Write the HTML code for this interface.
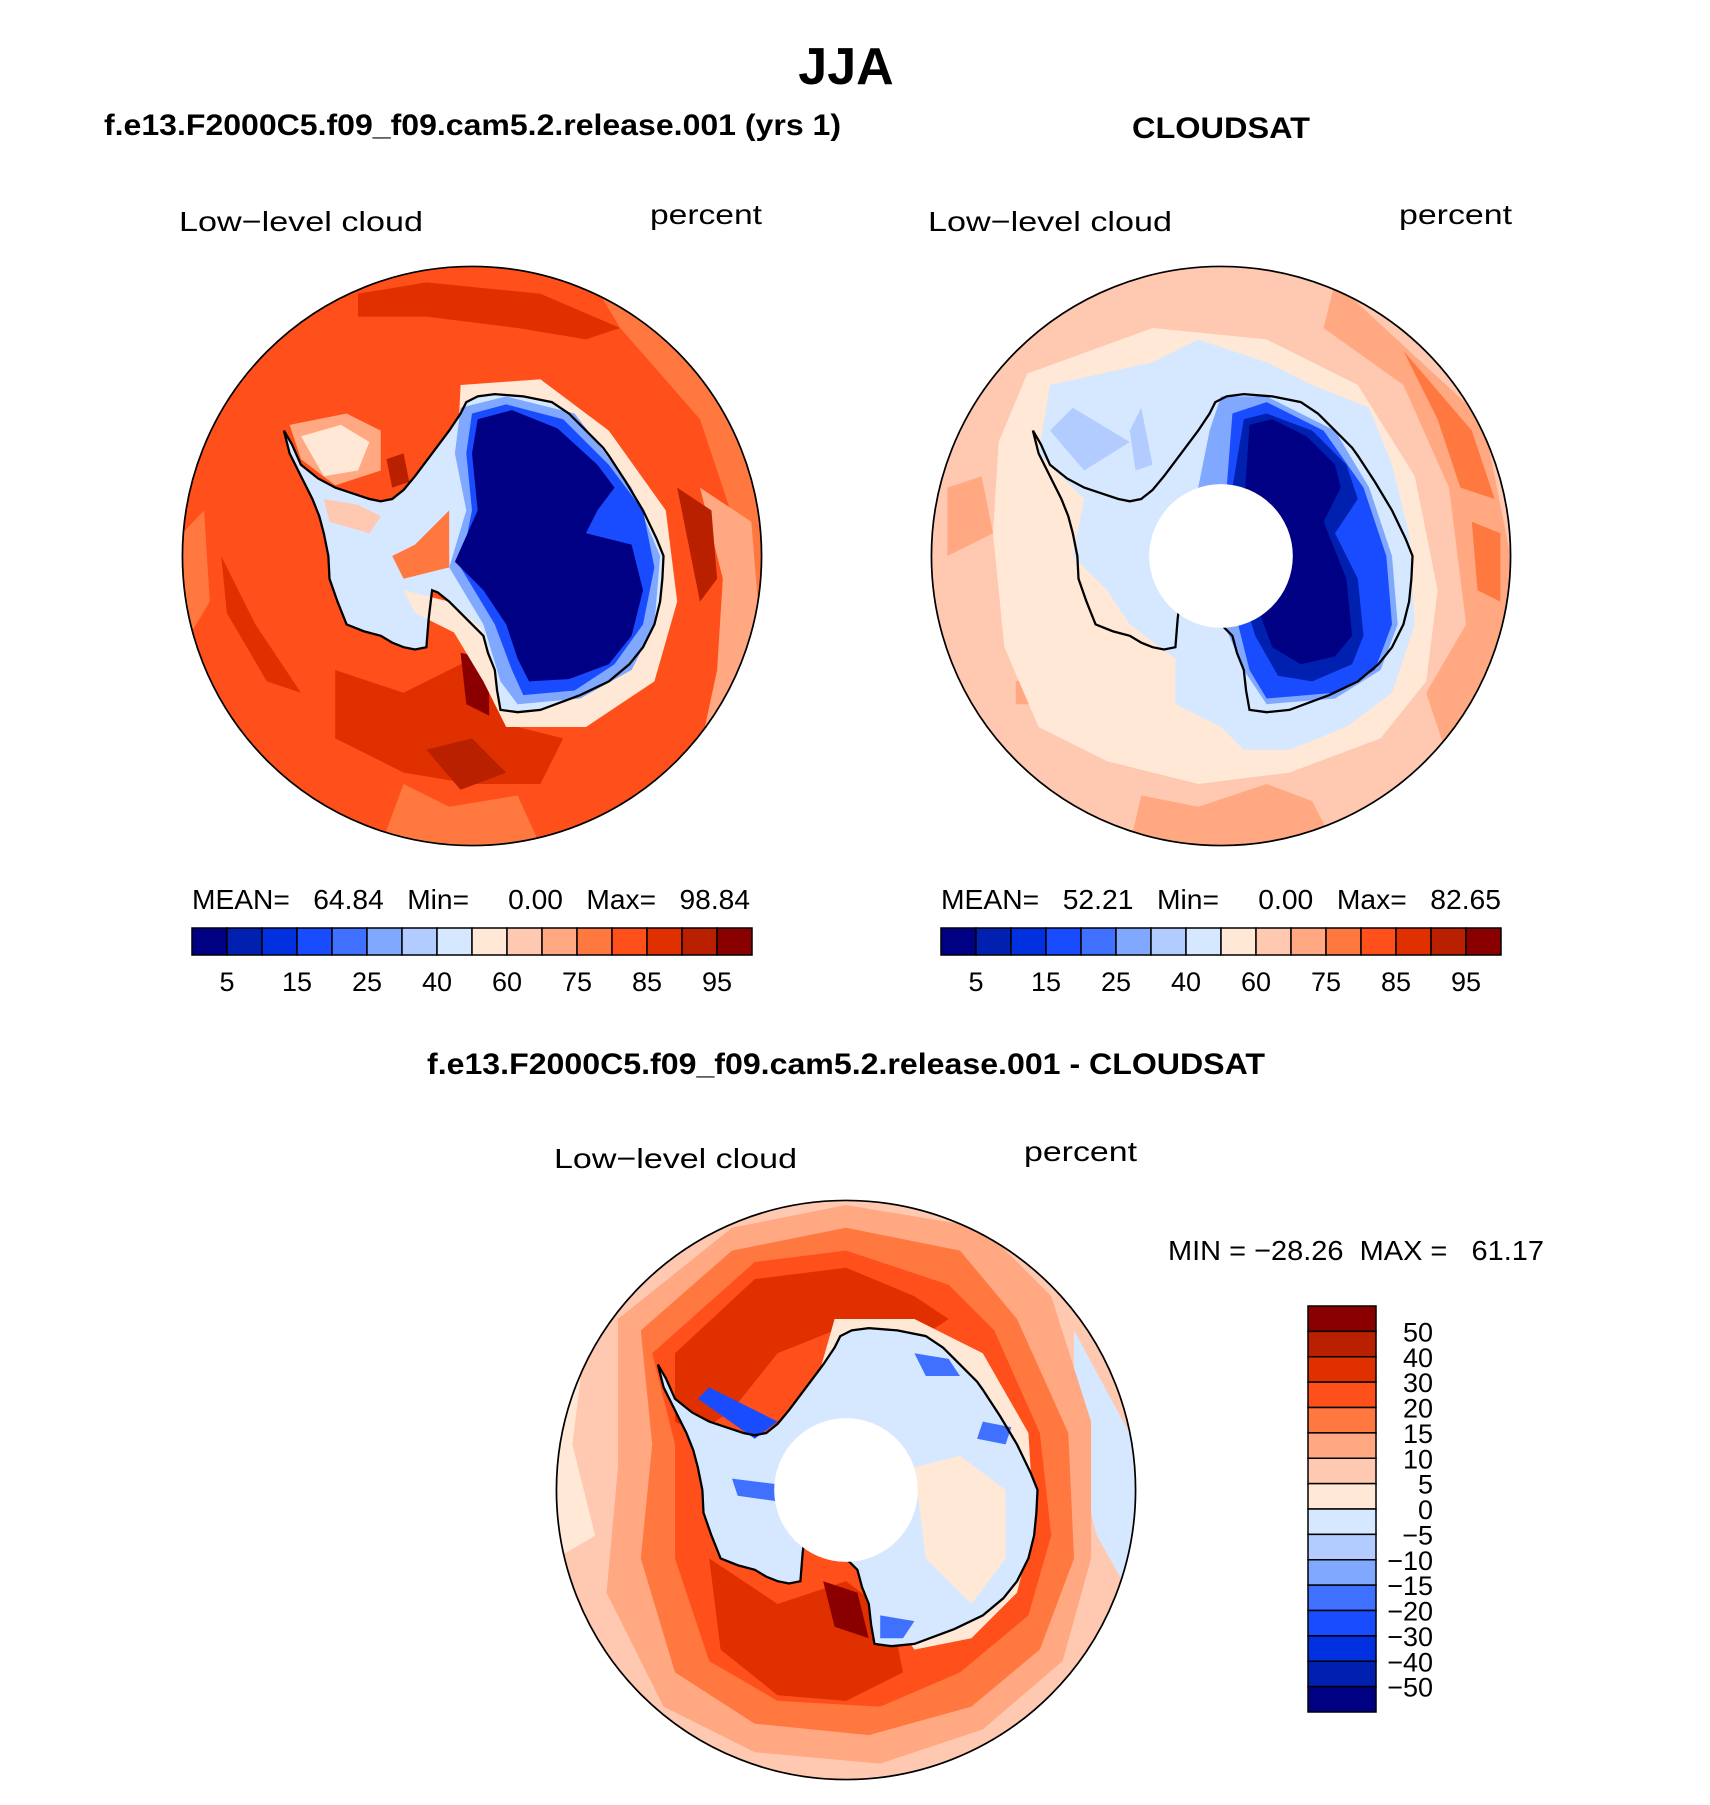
<!DOCTYPE html>
<html><head><meta charset="utf-8"><style>
html,body{margin:0;padding:0;background:#fff}
svg{display:block}
text{font-family:"Liberation Sans",sans-serif;fill:#000}
.t{font-weight:bold}
.l{font-size:28px}
</style></head><body>
<svg id="fig" width="1710" height="1805" viewBox="0 0 1710 1805" xmlns="http://www.w3.org/2000/svg">
<defs>
<clipPath id="c1"><circle cx="0" cy="0" r="254"/></clipPath>
<path id="ant" d="M-5,-135 L5,-140 20,-142 45,-140 70,-135 85,-125 100,-110 115,-95 120,-88 135,-65 150,-40 162,-15 168,0 167,20 165,40 160,60 150,80 138,95 120,110 95,122 60,135 40,137 25,135 22,118 20,100 14,85 10,70 -5,55 -20,40 -30,32 -35,30 -38,55 -40,80 -50,82 -60,80 -70,76 -80,70 -95,66 -110,60 -118,40 -125,20 -126,0 -130,-20 -134,-35 -140,-50 -150,-70 -160,-90 -165,-110 -158,-98 -150,-80 -135,-68 -120,-60 -105,-55 -90,-50 -80,-48 -70,-50 -60,-58 -50,-70 -35,-90 -20,-110 -10,-125 Z"/>
</defs>

<text class="t" x="846" y="84" font-size="52" text-anchor="middle">JJA</text>
<text class="t" x="104" y="135" font-size="30" textLength="737" lengthAdjust="spacingAndGlyphs">f.e13.F2000C5.f09_f09.cam5.2.release.001 (yrs 1)</text>
<text class="t" x="1221" y="138" font-size="30" text-anchor="middle" textLength="178" lengthAdjust="spacingAndGlyphs">CLOUDSAT</text>
<text class="t" x="846" y="1074" font-size="30" text-anchor="middle" textLength="838" lengthAdjust="spacingAndGlyphs">f.e13.F2000C5.f09_f09.cam5.2.release.001 - CLOUDSAT</text>

<text class="l" x="179" y="231" textLength="244" lengthAdjust="spacingAndGlyphs">Low−level cloud</text>
<text class="l" x="650" y="224" textLength="112" lengthAdjust="spacingAndGlyphs">percent</text>
<text class="l" x="928" y="231" textLength="244" lengthAdjust="spacingAndGlyphs">Low−level cloud</text>
<text class="l" x="1399" y="224" textLength="113" lengthAdjust="spacingAndGlyphs">percent</text>
<text class="l" x="554" y="1168" textLength="243" lengthAdjust="spacingAndGlyphs">Low−level cloud</text>
<text class="l" x="1024" y="1161" textLength="113" lengthAdjust="spacingAndGlyphs">percent</text>

<!-- left map -->
<g transform="translate(472,556) scale(1.14)">
<g clip-path="url(#c1)">
<circle r="254" fill="#ff4f1a"/>
<path d="M100,-250 L254,-120 254,120 180,200 230,120 240,0 200,-120 130,-200Z" fill="#ff7840"/>
<path d="M200,-60 L245,-30 254,80 230,150 200,170 215,100 220,20Z" fill="#ffa882"/>
<path d="M-80,254 L-60,200 -20,220 40,210 60,254Z" fill="#ff7840"/>
<path d="M-200,180 L-150,230 -120,254 -254,254Z" fill="#ff7840"/>
<path d="M-254,-20 L-235,-40 -230,40 -254,80Z" fill="#ff7840"/>
<path d="M-120,100 L-60,120 0,90 40,150 80,160 60,200 0,200 -60,190 -120,160Z" fill="#e03000"/>
<path d="M-40,170 L0,160 30,190 -10,205Z" fill="#b82000"/>
<path d="M-10,85 L15,90 15,140 -5,130Z" fill="#8a0000"/>
<path d="M180,-60 L210,-40 215,20 200,40 190,-10Z" fill="#b82000"/>
<path d="M-100,-230 L-40,-240 60,-230 130,-200 100,-190 40,-200 -40,-210 -100,-210Z" fill="#e03000"/>
<path d="M-220,0 L-190,60 -150,120 -180,110 -215,50Z" fill="#e03000"/>
<path d="M-160,-115 L-110,-125 -80,-110 -80,-75 -120,-62 -150,-85Z" fill="#ffa882"/>
<path d="M-150,-105 L-115,-115 -90,-100 -100,-75 -130,-70Z" fill="#ffe8d6"/>
<path d="M-10,-150 L60,-155 120,-110 170,-40 180,40 160,110 100,150 30,150 10,110 -20,60Z" fill="#ffe8d6"/>
<use href="#ant" fill="#d6e8ff"/>
<path d="M-130,-50 L-100,-45 -80,-35 -90,-20 -125,-30Z" fill="#ffc8b0"/>
<path d="M-20,-40 L-20,10 -60,20 -70,0 -50,-10Z" fill="#ff7840"/>
<path d="M-75,-85 L-60,-90 -55,-65 -70,-60Z" fill="#b82000"/>
<path d="M-60,30 L-20,40 10,65 -10,70 -50,50Z" fill="#ffe8d6"/>
<path d="M-10,-130 L30,-140 90,-125 140,-60 165,0 160,60 140,100 95,125 40,130 25,110 10,60 -20,10 -5,-40 -15,-90Z" fill="#80a8ff"/>
<path d="M0,-125 L30,-133 80,-120 120,-80 150,-40 160,10 150,60 125,95 90,118 45,122 35,100 20,60 -10,10 0,-40 -5,-90Z" fill="#1a4cff"/>
<path d="M5,-120 L35,-128 75,-112 110,-80 125,-60 110,-40 100,-20 140,-10 150,30 140,70 120,95 85,108 50,110 40,90 30,60 10,30 -15,5 5,-40 0,-90Z" fill="#000085"/>
<use href="#ant" fill="none" stroke="#000" stroke-width="2"/>
</g>
<circle r="254" fill="none" stroke="#000" stroke-width="1.5"/>
</g>

<!-- right map -->
<g transform="translate(1221,556) scale(1.14)">
<g clip-path="url(#c1)">
<circle r="254" fill="#ffc8b0"/>
<path d="M100,-240 L230,-120 254,0 250,120 200,180 180,120 215,60 200,-60 160,-150 90,-200Z" fill="#ffa882"/>
<path d="M160,-180 L220,-110 240,-50 210,-60 190,-120Z" fill="#ff7840"/>
<path d="M220,-30 L245,-20 245,40 225,30Z" fill="#ff7840"/>
<path d="M-80,254 L-70,210 -20,220 40,200 80,215 100,254Z" fill="#ffa882"/>
<path d="M-240,-60 L-210,-70 -200,-20 -240,0Z" fill="#ffa882"/>
<path d="M-180,110 L-150,100 -140,130 -180,130Z" fill="#ffa882"/>
<path d="M-170,-160 L-60,-200 40,-190 120,-150 170,-70 190,30 180,110 140,160 60,190 -20,200 -100,180 -160,150 -190,80 -200,-20 -195,-100Z" fill="#ffe8d6"/>
<path d="M-150,-150 L-60,-170 -20,-190 40,-170 80,-150 130,-130 150,-80 165,-20 170,60 150,120 110,150 60,170 20,170 0,150 -40,130 -40,90 -80,60 -100,30 -130,0 -120,-50 -160,-90Z" fill="#d6e8ff"/>
<path d="M-150,-110 L-130,-130 -80,-100 -120,-75Z" fill="#b2ccff"/>
<path d="M-80,-110 L-70,-130 -60,-80 -75,-75Z" fill="#b2ccff"/>
<path d="M-10,-110 L0,-140 40,-140 100,-110 130,-60 150,0 155,60 140,100 100,125 40,130 20,100 -10,30 -30,0 -20,-60Z" fill="#80a8ff"/>
<path d="M10,-125 L40,-135 90,-110 125,-60 145,0 150,60 135,100 100,120 40,125 25,100 10,40 -5,-10 5,-60Z" fill="#1a4cff"/>
<path d="M20,-120 L40,-125 80,-110 110,-80 120,-50 100,-20 120,20 125,70 115,95 80,110 50,105 30,70 15,20 10,-60Z" fill="#0020b0"/>
<path d="M25,-115 L45,-120 75,-105 100,-80 105,-60 90,-30 110,20 115,70 100,88 70,95 45,80 30,40 20,-40Z" fill="#000085"/>
<use href="#ant" fill="none" stroke="#000" stroke-width="2"/>
<circle r="63" fill="#fff"/>
</g>
<circle r="254" fill="none" stroke="#000" stroke-width="1.5"/>
</g>

<!-- diff map -->
<g transform="translate(846,1490) scale(1.14)">
<g clip-path="url(#c1)">
<circle r="254" fill="#ffc8b0"/>
<path d="M-254,-60 L-230,-120 -240,-40 -220,40 -254,60Z" fill="#ffe8d6"/>
<path d="M200,-140 L254,-40 254,100 220,40 200,-40Z" fill="#d6e8ff"/>
<path d="M-200,-150 L-100,-230 0,-250 120,-230 180,-170 215,-60 215,60 190,150 120,210 30,240 -80,230 -160,190 -210,90 -200,-20Z" fill="#ffa882"/>
<path d="M-180,-140 L-100,-210 0,-230 100,-210 150,-150 195,-50 200,60 170,140 110,190 20,215 -80,205 -150,160 -180,60 -170,-40Z" fill="#ff7840"/>
<path d="M-170,-120 L-80,-200 0,-210 90,-180 130,-140 170,-50 180,40 160,110 100,160 30,190 -60,185 -120,150 -150,60 -150,-40Z" fill="#ff4f1a"/>
<path d="M-150,-120 L-80,-185 0,-195 60,-170 90,-150 60,-130 -10,-140 -60,-120 -100,-70 -130,-50 -150,-60Z" fill="#e03000"/>
<path d="M-120,60 L-60,100 0,80 40,110 50,160 0,185 -60,180 -110,140Z" fill="#e03000"/>
<path d="M-20,80 L10,90 20,130 -10,120Z" fill="#8a0000"/>
<path d="M-10,-150 L60,-150 120,-120 160,-50 165,30 150,90 110,130 60,140 40,110 30,60 -20,30 -40,-20 -30,-80Z" fill="#ffe8d6"/>
<use href="#ant" fill="#d6e8ff"/>
<path d="M60,-20 L100,-30 140,0 140,60 110,100 70,60Z" fill="#ffe8d6"/>
<path d="M-60,-20 L-30,-30 -30,10 -60,10Z" fill="#ff7840"/>
<path d="M-130,-80 L-120,-90 -60,-60 -80,-45Z" fill="#1a4cff"/>
<path d="M-100,-10 L-60,-5 -60,10 -95,5Z" fill="#4070ff"/>
<path d="M60,-120 L90,-115 100,-100 70,-100Z" fill="#4070ff"/>
<path d="M120,-60 L145,-55 140,-40 115,-45Z" fill="#4070ff"/>
<path d="M30,110 L60,115 50,130 30,130Z" fill="#4070ff"/>
<use href="#ant" fill="none" stroke="#000" stroke-width="2"/>
<circle r="63" fill="#fff"/>
</g>
<circle r="254" fill="none" stroke="#000" stroke-width="1.5"/>
</g>

<text class="l" x="192" y="909" textLength="558" lengthAdjust="spacingAndGlyphs" xml:space="preserve">MEAN=   64.84   Min=     0.00   Max=   98.84</text>
<text class="l" x="941" y="909" textLength="560" lengthAdjust="spacingAndGlyphs" xml:space="preserve">MEAN=   52.21   Min=     0.00   Max=   82.65</text>
<text class="l" x="1168" y="1260" textLength="376" lengthAdjust="spacingAndGlyphs" xml:space="preserve">MIN = −28.26  MAX =   61.17</text>

<g id="cb1"></g>
<g id="cb2"></g>
<g id="cb3"></g>
</svg>
<script>
const absColors = ["#000085","#0020b0","#0030e0","#1a4cff","#4070ff","#80a8ff","#b2ccff","#d6e8ff","#ffe8d6","#ffc8b0","#ffa882","#ff7840","#ff4f1a","#e03000","#b82000","#8a0000"];
const absTickLabels = ["5","15","25","40","60","75","85","95"];
const diffTickLabels = ["50","40","30","20","15","10","5","0","−5","−10","−15","−20","−30","−40","−50"];
const NS = "http://www.w3.org/2000/svg";
function hbar(id, x0, x1, y0, y1, ly){
  const g = document.getElementById(id);
  const w = (x1 - x0) / absColors.length;
  absColors.forEach((c, i) => {
    const r = document.createElementNS(NS, "rect");
    r.setAttribute("x", x0 + i * w); r.setAttribute("y", y0);
    r.setAttribute("width", w); r.setAttribute("height", y1 - y0);
    r.setAttribute("fill", c); r.setAttribute("stroke", "#000"); r.setAttribute("stroke-width", "1.5");
    
    
    g.appendChild(r);
  });
  absTickLabels.forEach((s, i) => {
    const t = document.createElementNS(NS, "text");
    t.setAttribute("x", x0 + w * (1 + 2 * i));
    t.setAttribute("y", ly); t.setAttribute("text-anchor", "middle"); t.setAttribute("font-size", "27");
    t.textContent = s;
    
    
    g.appendChild(t);
  });
}
hbar("cb1", 192, 752, 928, 955, 991);
hbar("cb2", 941, 1501, 928, 955, 991);
(function(){
  const g = document.getElementById("cb3");
  const x0 = 1308, x1 = 1376, y0 = 1306, y1 = 1712;
  const n = absColors.length, h = (y1 - y0) / n;
  for (let i = 0; i < n; i++) {
    const r = document.createElementNS(NS, "rect");
    r.setAttribute("x", x0); r.setAttribute("y", y0 + i * h);
    r.setAttribute("width", x1 - x0); r.setAttribute("height", h);
    r.setAttribute("fill", absColors[n - 1 - i]); r.setAttribute("stroke", "#000"); r.setAttribute("stroke-width", "1.5");
    
    
    g.appendChild(r);
  }
  diffTickLabels.forEach((s, i) => {
    const t = document.createElementNS(NS, "text");
    t.setAttribute("x", 1433); t.setAttribute("y", y0 + (i + 1) * h + 10);
    t.setAttribute("text-anchor", "end"); t.setAttribute("font-size", "27");
    t.textContent = s;
    
    
    g.appendChild(t);
  });
})();
</script>
</body></html>
